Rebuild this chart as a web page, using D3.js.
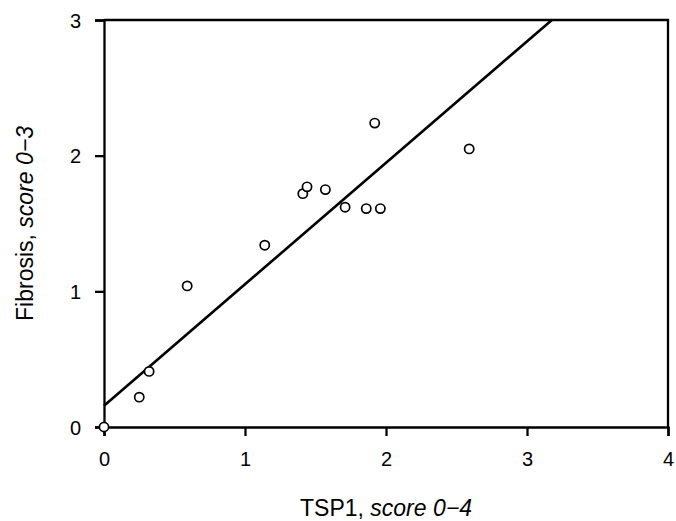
<!DOCTYPE html>
<html>
<head>
<meta charset="utf-8">
<script src="https://cdn.jsdelivr.net/npm/d3@7.9.0/dist/d3.min.js"></script>
<style>
  body { margin: 0; background: #fff; }
  svg { display: block; font-family: 'Liberation Sans', Arial, sans-serif; }
</style>
</head>
<body>
<svg id="chart" width="676" height="521"></svg>
<script>
// TSP1 score vs fibrosis score
const tsp1 = [0, 0.25, 0.32, 0.59, 1.14, 1.41, 1.44, 1.57, 1.71, 1.86, 1.96, 1.92, 2.59];
const fibrosis = [0, 0.22, 0.41, 1.04, 1.34, 1.72, 1.77, 1.75, 1.62, 1.61, 1.61, 2.24, 2.05];

// fitted line
const fitIntercept = 0.157;
const fitSlope = 0.895;

const xTicks = [0, 1, 2, 3, 4];
const yTicks = [0, 1, 2, 3];

const margin = { top: 20, right: 8, bottom: 94, left: 104 };
const width = 676, height = 521;

const svg = d3.select('#chart');

const x = d3.scaleLinear().domain([0, 4]).range([margin.left, width - margin.right]);
const y = d3.scaleLinear().domain([0, 3]).range([height - margin.bottom, margin.top]);

// top and right frame
svg.append('path')
  .attr('d', `M${x(0)},${y(3)}H${x(4)}V${y(0)}`)
  .attr('fill', 'none')
  .attr('stroke', '#000')
  .attr('stroke-width', 2.3);

const xAxis = svg.append('g')
  .attr('transform', `translate(0,${y(0)})`)
  .call(d3.axisBottom(x).tickValues(xTicks).tickFormat(d3.format('d')).tickSize(9).tickPadding(16));

const yAxis = svg.append('g')
  .attr('transform', `translate(${x(0)},0)`)
  .call(d3.axisLeft(y).tickValues(yTicks).tickFormat(d3.format('d')).tickSize(9).tickPadding(14));

[xAxis, yAxis].forEach((g) => {
  g.select('.domain').attr('stroke-width', 2.3).attr('stroke', '#000');
  g.selectAll('.tick line').attr('stroke-width', 2.3).attr('stroke', '#000');
  g.selectAll('.tick text')
    .attr('fill', '#000')
    .style('font-size', '20px')
    .style('font-family', "'Liberation Sans', Arial, sans-serif");
});
xAxis.selectAll('.tick text').attr('dy', '0.71em');
yAxis.selectAll('.tick text').attr('dy', '0.36em');

// regression line, clipped at the top of the plot
const xEnd = (3 - fitIntercept) / fitSlope;
svg.append('line')
  .attr('x1', x(0))
  .attr('y1', y(fitIntercept))
  .attr('x2', x(xEnd))
  .attr('y2', y(3))
  .attr('stroke', '#000')
  .attr('stroke-width', 2.6);

const points = tsp1.map((v, i) => ({ x: v, y: fibrosis[i] }));

svg.append('g')
  .selectAll('circle')
  .data(points)
  .join('circle')
  .attr('cx', (d) => x(d.x))
  .attr('cy', (d) => y(d.y))
  .attr('r', 4.6)
  .attr('fill', '#fff')
  .attr('stroke', '#000')
  .attr('stroke-width', 1.7);

// axis titles
const xTitle = svg.append('text')
  .attr('x', (x(0) + x(4)) / 2)
  .attr('y', 516)
  .attr('text-anchor', 'middle')
  .style('font-size', '23px');
xTitle.append('tspan').text('TSP1, ');
xTitle.append('tspan').style('font-style', 'italic').text('score 0\u22124');

const yTitle = svg.append('text')
  .attr('transform', `translate(33,${(y(0) + y(3)) / 2}) rotate(-90)`)
  .attr('text-anchor', 'middle')
  .style('font-size', '23px');
yTitle.append('tspan').text('Fibrosis, ');
yTitle.append('tspan').style('font-style', 'italic').text('score 0\u22123');
</script>
</body>
</html>
